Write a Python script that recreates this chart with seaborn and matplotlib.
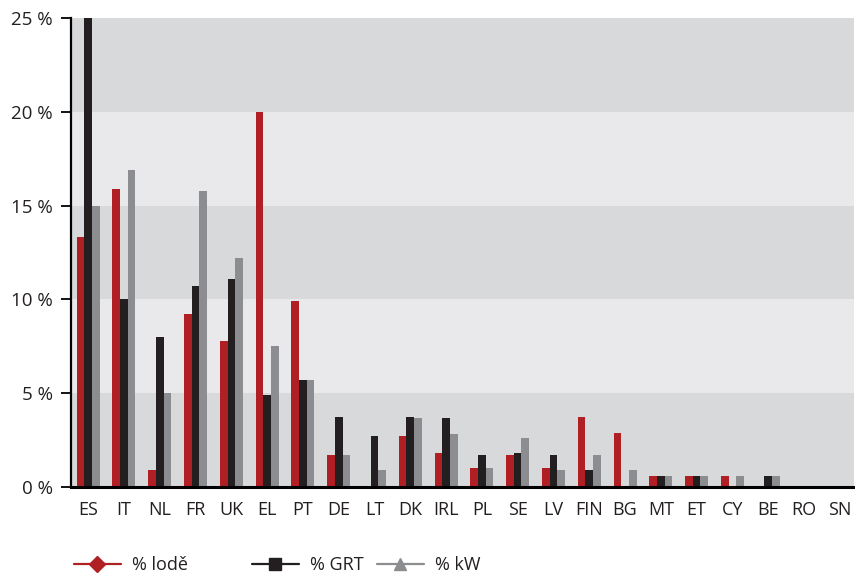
import matplotlib
matplotlib.use("Agg")
import matplotlib.pyplot as plt
from matplotlib.lines import Line2D
import seaborn as sns
import pandas as pd

# Share of the fleet per member state (%)
countries = ["ES", "IT", "NL", "FR", "UK", "EL", "PT", "DE", "LT", "DK", "IRL",
             "PL", "SE", "LV", "FIN", "BG", "MT", "ET", "CY", "BE", "RO", "SN"]
lode = [13.3, 15.9, 0.9, 9.2, 7.8, 20.0, 9.9, 1.7, 0.0, 2.7, 1.8,
        1.0, 1.7, 1.0, 3.75, 2.9, 0.6, 0.6, 0.6, 0.0, 0.0, 0.0]
grt = [25.0, 10.0, 8.0, 10.7, 11.1, 4.9, 5.7, 3.75, 2.7, 3.75, 3.7,
       1.7, 1.8, 1.7, 0.9, 0.0, 0.6, 0.6, 0.0, 0.6, 0.0, 0.0]
kw = [15.0, 16.9, 5.0, 15.8, 12.2, 7.5, 5.7, 1.7, 0.9, 3.7, 2.8,
      1.0, 2.6, 0.9, 1.7, 0.9, 0.6, 0.6, 0.6, 0.6, 0.0, 0.0]
series_names = ["% lodě", "% GRT", "% kW"]
y_ticks = [0, 5, 10, 15, 20, 25]
y_tick_labels = ["0 %", "5 %", "10 %", "15 %", "20 %", "25 %"]

RED = "#b01f24"
BLACK = "#231f20"
GREY = "#8c8d90"
BAND_DARK = "#d8d9db"
BAND_LIGHT = "#e9e9eb"

df = pd.DataFrame({
    "country": countries * 3,
    "series": [s for s in series_names for _ in countries],
    "value": lode + grt + kw,
})

sns.set_theme(style="white")
plt.rcParams["font.family"] = ["Open Sans", "DejaVu Sans"]

fig = plt.figure(figsize=(8.55, 5.74), dpi=100)
ax = fig.add_axes([0.083, 0.1516, 0.916, 0.817])
ax.set_facecolor(BAND_DARK)

sns.barplot(data=df, x="country", y="value", hue="series",
            hue_order=series_names, order=countries,
            palette=[RED, BLACK, GREY], width=0.64, gap=0,
            linewidth=0, saturation=1, legend=False, ax=ax, zorder=2)

# lighter bands between 5–10 % and 15–20 %
for lo in (5, 15):
    ax.axhspan(lo, lo + 5, xmin=0, xmax=1, facecolor=BAND_LIGHT,
               edgecolor="none", lw=0, zorder=0.5)

ax.set_xlim(-0.48, len(countries) - 0.6)
ax.set_ylim(0, 25)
ax.set_xlabel("")
ax.set_ylabel("")
ax.set_yticks(y_ticks)
ax.set_yticklabels(y_tick_labels)
ax.tick_params(axis="y", direction="out", length=7, width=1.3, color="black",
               labelsize=13.5, labelcolor=BLACK, pad=6, left=True)
ax.tick_params(axis="x", length=0, labelsize=13, labelcolor=BLACK, pad=10)

for side in ["top", "right"]:
    ax.spines[side].set_visible(False)
ax.spines["left"].set_color("black")
ax.spines["left"].set_linewidth(1.6)
ax.spines["bottom"].set_color("black")
ax.spines["bottom"].set_linewidth(2.2)
ax.spines["left"].set_zorder(5)
ax.spines["bottom"].set_zorder(5)

# legend entries placed individually below the axis
entries = [
    (series_names[0], RED, "D", 74),
    (series_names[1], BLACK, "s", 252),
    (series_names[2], GREY, "^", 377),
]
for label, color, marker, x_px in entries:
    h = Line2D([0], [0], color=color, lw=1.6, marker=marker, markersize=8,
               markerfacecolor=color, markeredgecolor=color)
    leg = fig.legend(handles=[h], labels=[label], loc="center left",
                     bbox_to_anchor=(x_px / 855, 1 - 565 / 574),
                     frameon=False, fontsize=13, handlelength=2.6,
                     handletextpad=0.6, borderpad=0, borderaxespad=0)
    for t in leg.get_texts():
        t.set_color(BLACK)

fig.savefig("out.png", dpi=100)
